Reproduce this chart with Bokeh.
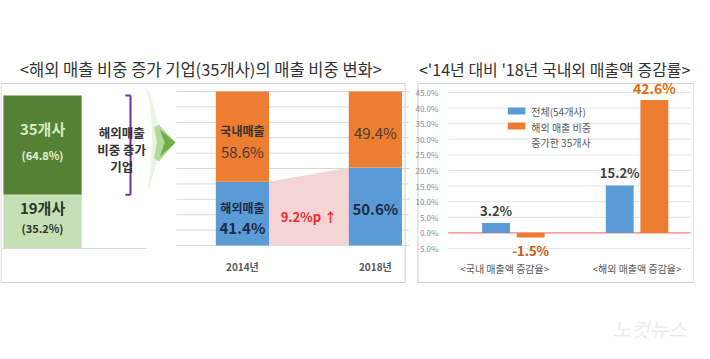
from bokeh.plotting import figure
from bokeh.models import Range1d
from bokeh.core.properties import value
from bokeh.embed import file_html
from bokeh.resources import INLINE

FONT = value("Noto Sans CJK KR")

# ---------------- data ----------------
# left: firms whose overseas sales share increased
firm_labels = ["35개사", "19개사"]
firm_share_labels = ["(64.8%)", "(35.2%)"]
firm_shares = [64.8, 35.2]
bracket_text = ["해외매출", "비중 증가", "기업"]

# middle: sales share of the 35 firms
years = ["2014년", "2018년"]
overseas_share = [41.4, 50.6]
domestic_share = [58.6, 49.4]
share_gain_label = "9.2%p ↑"
share_grid = [0, 10, 20, 30, 40, 50, 60, 70, 80, 90, 100]

# right: growth rate '14 -> '18
rate_categories = ["<국내 매출액 증감율>", "<해외 매출액 증감율>"]
series_names = ["전체(54개사)", "해외 매출 비중\n증가한 35개사"]
rate_all = [3.2, 15.2]
rate_35 = [-1.5, 42.6]
rate_ticks = [-5, 0, 5, 10, 15, 20, 25, 30, 35, 40, 45]

title_left = "<해외 매출 비중 증가 기업(35개사)의 매출 비중 변화>"
title_right = "<'14년 대비 '18년 국내외 매출액 증감률>"

BLUE = "#5B9BD5"
ORANGE = "#ED7D31"
DGREEN = "#548235"
LGREEN = "#C5E0B4"

# ---------------- canvas ----------------
p = figure(width=694, height=343, x_range=Range1d(0, 710), y_range=Range1d(343, 0),
           output_backend="svg", toolbar_location=None, min_border=0)
p.axis.visible = False
p.grid.visible = False
p.outline_line_color = None
p.background_fill_color = "white"

# panel boxes
p.quad(left=[0.5, 427], right=[414, 709.5], top=[83, 83], bottom=[282, 282],
       fill_color=None, line_color="#D0D0D0", line_width=1)

# titles
p.text(x=[205], y=[68], text=[title_left], text_font=FONT,
       text_font_size="16.5px", text_color="#333333", text_align="center",
       text_baseline="middle")
p.text(x=[567], y=[68], text=[title_right], text_font=FONT,
       text_font_size="16px", text_color="#333333", text_align="center",
       text_baseline="middle")

# ---------------- left panel ----------------
lp = p.subplot(x_source=Range1d(-0.5, 0.5), y_source=Range1d(0, 100),
               x_target=Range1d(3, 83), y_target=Range1d(248, 95))
top_share = firm_shares[0]
bot_share = firm_shares[1]
lp.vbar(x=[0], width=1, bottom=[bot_share], top=[bot_share + top_share],
        fill_color=DGREEN, line_color=None)
lp.vbar(x=[0], width=1, bottom=[0], top=[bot_share],
        fill_color=LGREEN, line_color=None)
mid_top = bot_share + top_share / 2
mid_bot = bot_share / 2
lp.text(x=[0], y=[mid_top], text=[firm_labels[0]], text_font=FONT, text_font_size="15px",
        text_font_style="bold", text_color="#D5EBC8", text_align="center",
        text_baseline="middle", y_offset=-17)
lp.text(x=[0], y=[mid_top], text=[firm_share_labels[0]], text_font=FONT, text_font_size="11px",
        text_font_style="bold", text_color="#E2F0D9", text_align="center",
        text_baseline="middle", y_offset=10)
lp.text(x=[0], y=[mid_bot], text=[firm_labels[1]], text_font=FONT, text_font_size="15px",
        text_font_style="bold", text_color="#333333", text_align="center",
        text_baseline="middle", y_offset=-14)
lp.text(x=[0], y=[mid_bot], text=[firm_share_labels[1]], text_font=FONT, text_font_size="11px",
        text_font_style="bold", text_color="#333333", text_align="center",
        text_baseline="middle", y_offset=6)
# purple bracket spanning the 35 firms
lp.segment(x0=[1.125, 1.06, 1.06], x1=[1.125, 1.125, 1.125],
           y0=[bot_share, bot_share, bot_share + top_share],
           y1=[bot_share + top_share, bot_share, bot_share + top_share],
           line_color="#7030A0", line_width=2)
# baseline under the bar
p.segment(x0=[0], x1=[150], y0=[248], y1=[248], line_color="#D9D9D9", line_width=1)
p.text(x=[124, 124, 124], y=[131.5, 148.5, 165.5], text=bracket_text, text_font=FONT,
       text_font_size="12.5px", text_font_style="bold", text_color="#333333",
       text_align="center", text_baseline="middle")

# green arrow (curved tail + head)
p.patch(x=[148, 154, 158, 161, 163, 160, 156, 150, 153, 155, 155, 152],
        y=[84, 96, 110, 124, 142, 160, 175, 192, 172, 150, 125, 100],
        fill_color="#E9F4E2", line_color=None)
p.patch(x=[157, 162, 179, 162, 157, 160],
        y=[127, 124, 142, 161, 158, 142],
        fill_color="#B5D99C", line_color=None)
p.patch(x=[163, 179, 163, 168],
        y=[129, 142, 156, 142],
        fill_color="#6FAE47", line_color=None)

# ---------------- middle panel ----------------
mg = p.subplot(x_source=Range1d(0, 710), y_source=Range1d(0, 100),
               x_target=Range1d(0, 710), y_target=Range1d(245, 91))
mg.segment(x0=[180] * len(share_grid), x1=[418] * len(share_grid), y0=share_grid,
           y1=share_grid, line_color="#D9D9D9", line_width=1)

mp = p.subplot(x_source=Range1d(0, 1), y_source=Range1d(0, 100),
               x_target=Range1d(247.5, 383.5), y_target=Range1d(245, 91))
bw = 0.4
xs = [0, 1]
# pink band showing increase
mp.patch(x=[xs[0] + bw / 2, xs[1] - bw / 2, xs[1] - bw / 2, xs[0] + bw / 2],
         y=[overseas_share[0], overseas_share[1], 0, 0],
         fill_color="#F6D3D5", line_color=None)
mp.vbar(x=xs, width=bw, bottom=[0, 0], top=overseas_share, fill_color=BLUE, line_color=None)
mp.vbar(x=xs, width=bw, bottom=overseas_share,
        top=[o + d for o, d in zip(overseas_share, domestic_share)],
        fill_color=ORANGE, line_color=None)
dom_mid = [o + d / 2 for o, d in zip(overseas_share, domestic_share)]
ovs_mid = [o / 2 for o in overseas_share]
mp.text(x=[xs[0]], y=[dom_mid[0]], text=["국내매출"], text_font=FONT, text_font_size="12px",
        text_font_style="bold", text_color="#333333", text_align="center",
        text_baseline="middle", y_offset=-6)
mp.text(x=[xs[0]], y=[dom_mid[0]], text=[f"{domestic_share[0]}%"], text_font=FONT,
        text_font_size="15px", text_color="#4A3A30", text_align="center",
        text_baseline="middle", y_offset=15)
mp.text(x=[xs[0]], y=[ovs_mid[0]], text=["해외매출"], text_font=FONT, text_font_size="12px",
        text_font_style="bold", text_color="#1F2A44", text_align="center",
        text_baseline="middle", y_offset=-6)
mp.text(x=[xs[0]], y=[ovs_mid[0]], text=[f"{overseas_share[0]}%"], text_font=FONT,
        text_font_size="15px", text_font_style="bold", text_color="#1F2A44",
        text_align="center", text_baseline="middle", y_offset=14)
mp.text(x=[xs[1]], y=[dom_mid[1]], text=[f"{domestic_share[1]}%"], text_font=FONT,
        text_font_size="15px", text_color="#4A3A30", text_align="center",
        text_baseline="middle", y_offset=3)
mp.text(x=[xs[1]], y=[ovs_mid[1]], text=[f"{overseas_share[1]}%"], text_font=FONT,
        text_font_size="15px", text_font_style="bold", text_color="#1F2A44",
        text_align="center", text_baseline="middle", y_offset=2)
mp.text(x=[0.5], y=[ovs_mid[0]], text=[share_gain_label], text_font=FONT,
        text_font_size="13px", text_font_style="bold", text_color="#F0282D",
        text_align="center", text_baseline="middle", y_offset=3)
mp.text(x=xs, y=[0, 0], text=years, text_font=FONT, text_font_size="10px",
        text_font_style="bold", text_color="#595959", text_align="center",
        text_baseline="middle", y_offset=21)

# ---------------- right panel ----------------
rg = p.subplot(x_source=Range1d(0, 710), y_source=Range1d(-5, 45),
               x_target=Range1d(0, 710), y_target=Range1d(248, 92))
grid_ticks = [t for t in rate_ticks if t != 0]
rg.segment(x0=[458] * len(grid_ticks), x1=[706] * len(grid_ticks), y0=grid_ticks,
           y1=grid_ticks, line_color="#E3E3E3", line_width=1)
rg.segment(x0=[458], x1=[706], y0=[0], y1=[0], line_color="#F26060", line_width=1)
rg.text(x=[448] * len(rate_ticks), y=rate_ticks, text=[f"{t:.1f}%" for t in rate_ticks],
        text_font=FONT, text_font_size="8px", text_color="#8C8C8C", text_align="right",
        text_baseline="middle")

rp = p.subplot(x_source=Range1d(0, 1), y_source=Range1d(-5, 45),
               x_target=Range1d(524.7, 651.2), y_target=Range1d(248, 92))
gx = [0, 1]
off = 0.14
rbw = 0.225
xa = [g - off for g in gx]
xb = [g + off for g in gx]
rp.vbar(x=xa, width=rbw, bottom=0, top=rate_all, fill_color=BLUE, line_color=None)
rp.vbar(x=xb, width=rbw, bottom=0, top=rate_35, fill_color=ORANGE, line_color=None)
rp.text(x=xa, y=rate_all, text=[f"{v}%" for v in rate_all], text_font=FONT,
        text_font_size="13px", text_font_style="bold", text_color="#404040",
        text_align="center", text_baseline="bottom", y_offset=-3)
for xv, v in zip(xb, rate_35):
    if v >= 0:
        rp.text(x=[xv], y=[v], text=[f"{v}%"], text_font=FONT, text_font_size="14px",
                text_font_style="bold", text_color="#E46C0A", text_align="center",
                text_baseline="bottom", y_offset=-2)
    else:
        rp.text(x=[xv], y=[v], text=[f"{v}%"], text_font=FONT, text_font_size="13px",
                text_font_style="bold", text_color="#C55A11", text_align="center",
                text_baseline="top", y_offset=3)
label_shift = [-0.07, 0.0]
rp.text(x=[g + s for g, s in zip(gx, label_shift)], y=[-5, -5], text=rate_categories,
        text_font=FONT, text_font_size="10px", text_color="#595959", text_align="center",
        text_baseline="middle", y_offset=20)

# legend
p.quad(left=[519, 519], right=[537, 537], top=[107, 122], bottom=[114, 129],
       fill_color=[BLUE, ORANGE], line_color=None)
leg_lines = [series_names[0]] + series_names[1].split("\n")
p.text(x=[543, 543, 543], y=[111, 126.5, 141.5], text=leg_lines, text_font=FONT,
       text_font_size="10px", text_color="#595959", text_align="left",
       text_baseline="middle")

# watermark
p.text(x=[664], y=[328], text=["노컷뉴스"], text_font=FONT, text_font_size="20px",
       text_font_style="italic", text_color="#ECECEC", text_align="center",
       text_baseline="middle")

open("out.html", "w").write(file_html(p, INLINE))
